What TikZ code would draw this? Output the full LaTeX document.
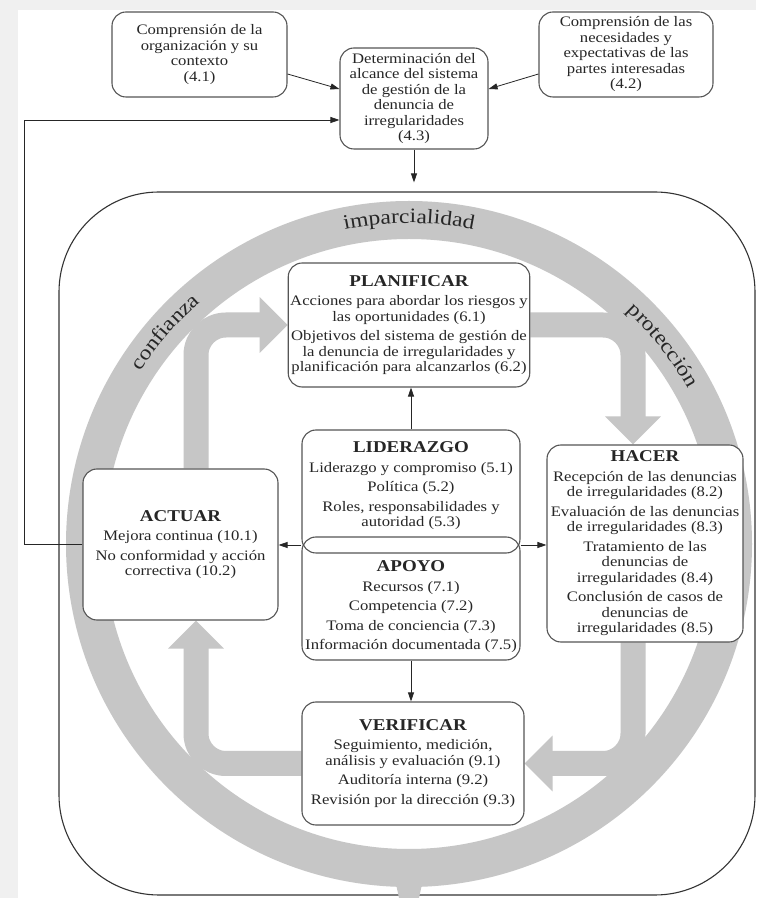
\documentclass[tikz,border=0pt]{standalone}
\usepackage{fontspec}
\setmainfont{Liberation Serif}[FakeStretch=1.15]
\usepackage{tikz}
\usetikzlibrary{arrows.meta}
\usetikzlibrary{calc}
\usetikzlibrary{backgrounds}
\usetikzlibrary{decorations.text}

\definecolor{framegray}{RGB}{240,240,240}
\definecolor{ringgray}{RGB}{198,198,198}
\definecolor{textgray}{RGB}{38,38,38}
\definecolor{linegray}{RGB}{85,85,85}

\newcommand{\boxtitle}[1]{{\fontsize{16.5}{19}\selectfont\bfseries #1}}
\newcommand{\ringfont}{\fontsize{20.5}{24}\selectfont}

\begin{document}
\begin{tikzpicture}[x=1pt, y=1pt,
                font=\fontsize{14.5}{15.5}\selectfont,
                block/.style={rectangle, rounded corners=14pt, draw=linegray, line width=1.1pt, fill=white, text=textgray, align=center, inner sep=2pt},
                arrow/.style={draw=black!85, line width=0.8pt, -{Triangle[length=9pt,width=6pt]}},
                band/.style={draw=ringgray, line width=25pt, rounded corners=30pt, -{Triangle[length=28pt,width=54pt]}},
                ringtext/.style={decorate, decoration={text along path, text align=center, text color=textgray, text={|\ringfont|#1}}}
            ]
            \useasboundingbox (0,0) rectangle (756,898);

            % context boxes
            \node[block, minimum width=175pt, minimum height=85pt](b41) at (199.5,843.5){Comprensión de la\\organización y su\\contexto\\(4.1)};
            \node[block, minimum width=148pt, minimum height=101pt](b43) at (414,799.5){Determinación del\\alcance del sistema\\de gestión de la\\denuncia de\\irregularidades\\(4.3)};
            \node[block, minimum width=174pt, minimum height=85pt](b42) at (626,843.5){Comprensión de las\\necesidades y\\expectativas de las\\partes interesadas\\(4.2)};

            % cycle boxes
            \node[block, minimum width=238pt, minimum height=124pt](planificar) at (409,573){\boxtitle{PLANIFICAR}\\[4pt]Acciones para abordar los riesgos y\\las oportunidades (6.1)\\[4pt]Objetivos del sistema de gestión de\\la denuncia de irregularidades y\\planificación para alcanzarlos (6.2)};
            \node[block, minimum width=218pt, minimum height=123pt](liderazgo) at (411,406.5){\boxtitle{LIDERAZGO}\\[4pt]Liderazgo y compromiso (5.1)\\[4pt]Política (5.2)\\[4pt]Roles, responsabilidades y\\autoridad (5.3)\rule[-14pt]{0pt}{0pt}};
            \node[block, fill=none, minimum width=218pt, minimum height=123pt](apoyo) at (411,299.5){\rule{0pt}{28pt}\boxtitle{APOYO}\\[4pt]Recursos (7.1)\\[4pt]Competencia (7.2)\\[4pt]Toma de conciencia (7.3)\\[4pt]Información documentada (7.5)};
            \node[block, minimum width=195pt, minimum height=151pt](actuar) at (180.5,353.5){\boxtitle{ACTUAR}\\[4pt]Mejora continua (10.1)\\[4pt]No conformidad y acción\\correctiva (10.2)};
            \node[block, minimum width=196pt, minimum height=197pt](hacer) at (645,354.5){\boxtitle{HACER}\\[4pt]Recepción de las denuncias\\de irregularidades (8.2)\\[4pt]Evaluación de las denuncias\\de irregularidades (8.3)\\[4pt]Tratamiento de las\\denuncias de\\irregularidades (8.4)\\[4pt]Conclusión de casos de\\denuncias de\\irregularidades (8.5)};
            \node[block, minimum width=222pt, minimum height=123pt](verificar) at (413,134.5){\boxtitle{VERIFICAR}\\[4pt]Seguimiento, medición,\\análisis y evaluación (9.1)\\[4pt]Auditoría interna (9.2)\\[4pt]Revisión por la dirección (9.3)};

            \begin{scope}[on background layer]
                \fill[framegray] (0,0) rectangle (756,898);
                \fill[white] (18,0) rectangle (756,888);
                \node[draw=black!80, line width=1.1pt, rounded corners=100pt, minimum width=696pt, minimum height=703pt, inner sep=0pt](outer) at (407,354.5){};
                % ring
                \coordinate (ringc) at (409,354);
                \draw[ringgray, line width=38pt] (ringc) circle[radius=324];
                \fill[ringgray] (396,14) -- (422,14) -- (419,0) -- (399,0) -- cycle;
                \path[ringtext=imparcialidad] (ringc) ++(130:321) arc[start angle=130, end angle=50, radius=321];
                \path[ringtext=confianza] (ringc) ++(179:319) arc[start angle=179, end angle=99, radius=319];
                \path[ringtext=protección] (ringc) ++(78:319) arc[start angle=78, end angle=-2, radius=319];
                % cycle arrows
                \draw[band] ([xshift=15.5pt]actuar.north) |- (planificar.west);
                \draw[band] (planificar.east) -| ([xshift=-12pt]hacer.north);
                \draw[band] ([xshift=-12pt]hacer.south) |- (verificar.east);
                \draw[band] (verificar.west) -| ([xshift=15.5pt]actuar.south);
            \end{scope}

            \coordinate (joinW) at ($(liderazgo.south west)!.5!(apoyo.north west)$);
            \coordinate (joinE) at ($(liderazgo.south east)!.5!(apoyo.north east)$);
            \path[arrow] (liderazgo.north) -- (liderazgo.north |- planificar.south);
            \path[arrow] (apoyo.south) -- (apoyo.south |- verificar.north);
            \path[arrow] (joinW) -- (joinW -| actuar.east);
            \path[arrow] (joinE) -- (joinE -| hacer.west);
            \path[arrow] ([yshift=-19.5pt]b41.east) -- ([yshift=9.5pt]b43.west);
            \path[arrow] ([yshift=-19.5pt]b42.west) -- ([yshift=9.5pt]b43.east);
            \path[arrow] (b43.south) -- ([yshift=9pt]b43.south |- outer.north);
            \path[arrow] (actuar.west) -- ++(-58,0) |- ([yshift=-21.5pt]b43.west);
        \end{tikzpicture}
\end{document}
